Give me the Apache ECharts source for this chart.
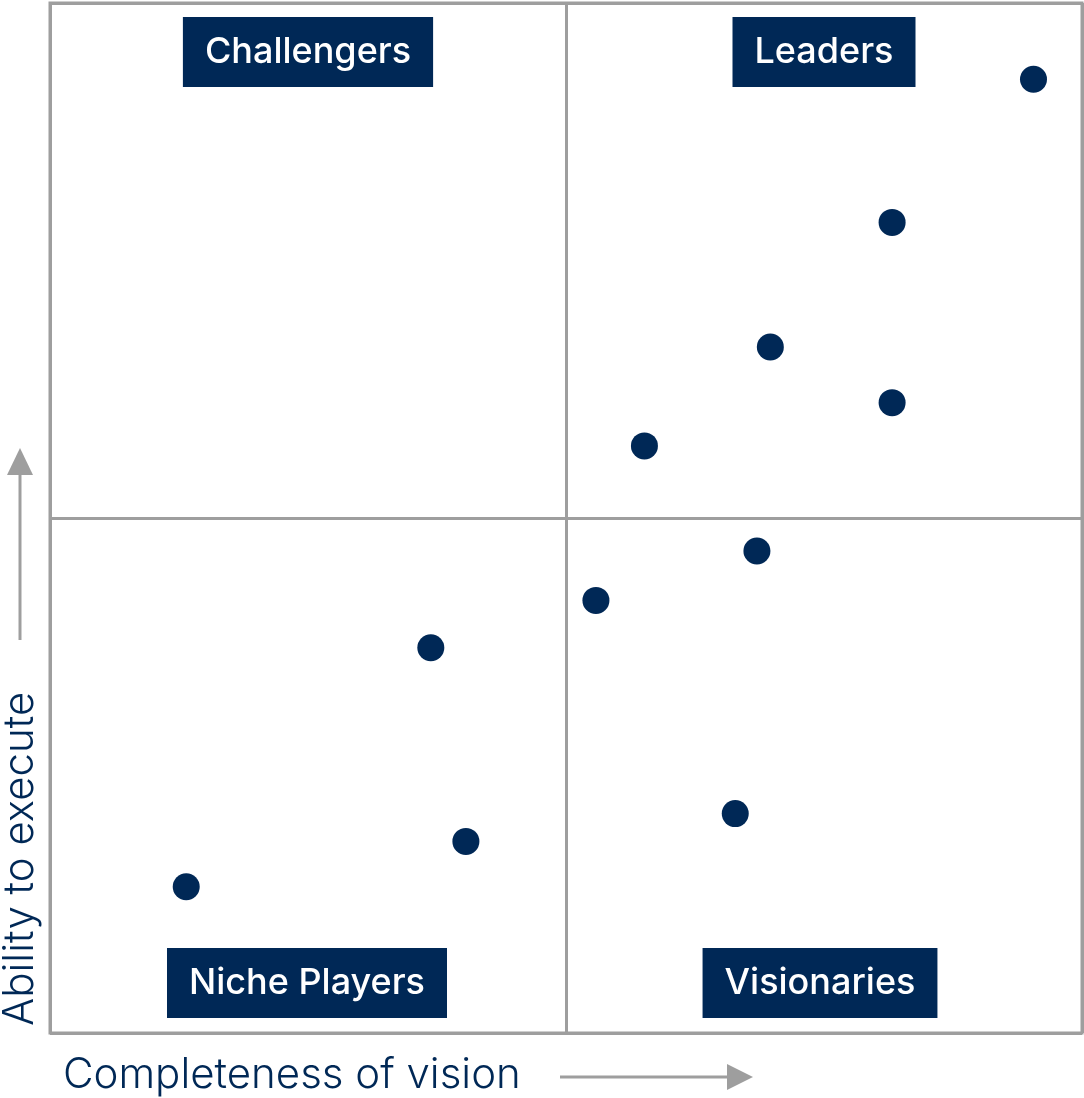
<!DOCTYPE html>
<html>
<head>
<meta charset="utf-8">
<script src="https://cdn.jsdelivr.net/npm/echarts@6/dist/echarts.min.js"></script>
<style>
html,body{margin:0;padding:0;background:#fff;}
#chart{width:1084px;height:1098px;}
</style>
</head>
<body>
<div id="chart"></div>
<script>
// Completeness of vision (x) and ability to execute (y), 0-100 scale
const visionValues  = [95.3, 81.6, 69.8, 81.6, 57.6, 68.5, 52.9, 36.9, 66.4, 40.3, 13.2];
const executeValues = [92.6, 78.7, 66.6, 61.2, 57.0, 46.8, 42.0, 37.4, 21.3, 18.6, 14.2];
const quadrantNames = ['Challengers', 'Leaders', 'Niche Players', 'Visionaries'];
const xAxisTitle = 'Completeness of vision';
const yAxisTitle = 'Ability to execute';

const NAVY = '#002856';
const GRAY = '#9e9e9e';
const FONT = 'Inter, "Noto Sans", sans-serif';

const points = visionValues.map((v, i) => [v, executeValues[i]]);

const chart = echarts.init(document.getElementById('chart'));

const grid = {left: 50, right: 2, top: 3, bottom: 65};

function quadLabel(name, cx, cy) {
  return {
    type: 'text',
    x: cx, y: cy,
    style: {
      text: name,
      fill: '#ffffff',
      font: '500 36px ' + FONT,
      align: 'center',
      verticalAlign: 'middle',
      backgroundColor: NAVY,
      padding: [17, 22, 17, 22]
    },
    z: 100
  };
}

chart.setOption({
  animation: false,
  backgroundColor: '#ffffff',
  grid: Object.assign({show: true, borderColor: GRAY, borderWidth: 3, backgroundColor: '#fff'}, grid),
  xAxis: {
    type: 'value', min: 0, max: 100, interval: 50,
    axisLine: {show: false}, axisTick: {show: false}, axisLabel: {show: false},
    splitLine: {show: true, lineStyle: {color: GRAY, width: 3}}
  },
  yAxis: {
    type: 'value', min: 0, max: 100, interval: 50,
    axisLine: {show: false}, axisTick: {show: false}, axisLabel: {show: false},
    splitLine: {show: true, lineStyle: {color: GRAY, width: 3}}
  },
  series: [{
    type: 'scatter',
    data: points,
    symbol: 'circle',
    symbolSize: 27,
    itemStyle: {color: NAVY, opacity: 1},
    z: 10
  }],
  graphic: [
    quadLabel(quadrantNames[0], 308, 52),
    quadLabel(quadrantNames[1], 824, 52),
    quadLabel(quadrantNames[2], 307, 983),
    quadLabel(quadrantNames[3], 820, 983),
    {
      type: 'text', x: 63, y: 1075,
      style: {text: xAxisTitle, fill: NAVY, font: '300 42px ' + FONT, align: 'left', verticalAlign: 'middle'}
    },
    {
      type: 'line', shape: {x1: 560, y1: 1077, x2: 730, y2: 1077},
      style: {stroke: GRAY, lineWidth: 3}
    },
    {
      type: 'polygon', shape: {points: [[727, 1064], [753, 1077], [727, 1090]]},
      style: {fill: GRAY}
    },
    {
      type: 'text', x: 20, y: 1026, rotation: Math.PI / 2,
      style: {text: yAxisTitle, fill: NAVY, font: '300 42px ' + FONT, align: 'left', verticalAlign: 'middle'}
    },
    {
      type: 'line', shape: {x1: 20, y1: 640, x2: 20, y2: 472},
      style: {stroke: GRAY, lineWidth: 3}
    },
    {
      type: 'polygon', shape: {points: [[7, 475], [20, 448], [33, 475]]},
      style: {fill: GRAY}
    }
  ]
});
</script>
</body>
</html>
